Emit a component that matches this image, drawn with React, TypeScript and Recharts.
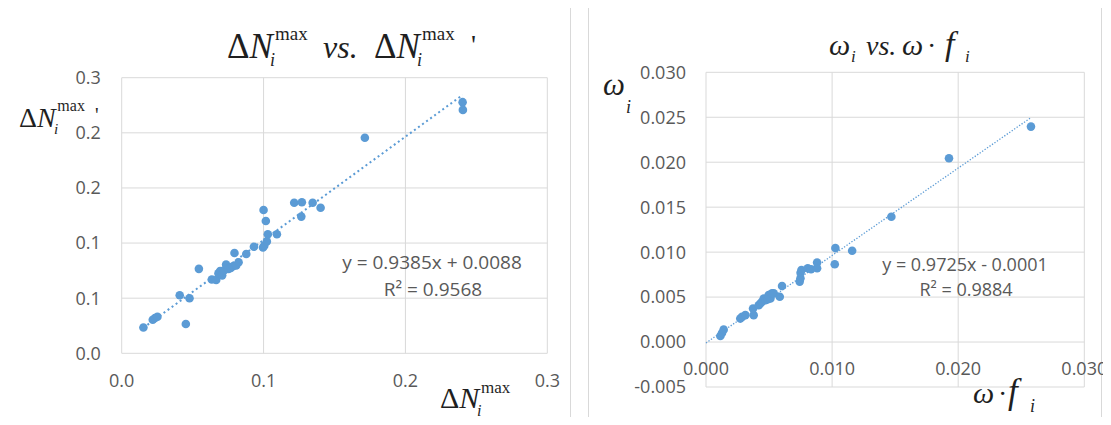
import { ScatterChart, Scatter, XAxis, YAxis, CartesianGrid, ReferenceLine } from 'recharts';

// left panel: ΔN_i^max vs ΔN_i^max'
const leftX = [0.0153, 0.0219, 0.0235, 0.0252, 0.0409, 0.0452, 0.0478, 0.0544, 0.0635, 0.0666, 0.0682, 0.0694, 0.0708, 0.0722, 0.0736, 0.0753, 0.0769, 0.0784, 0.0795, 0.0807, 0.0824, 0.0878, 0.0932, 0.0996, 0.1000, 0.1005, 0.1016, 0.1023, 0.1030, 0.1094, 0.1216, 0.1266, 0.1270, 0.1346, 0.1402, 0.1714, 0.2403, 0.2405];
const leftY = [0.0234, 0.0305, 0.0320, 0.0332, 0.0527, 0.0266, 0.0500, 0.0766, 0.0670, 0.0665, 0.0725, 0.0746, 0.0707, 0.0754, 0.0805, 0.0766, 0.0775, 0.0790, 0.0910, 0.0796, 0.0826, 0.0901, 0.0967, 0.0960, 0.1300, 0.0975, 0.1200, 0.1015, 0.1080, 0.1080, 0.1365, 0.1240, 0.1370, 0.1365, 0.1320, 0.1955, 0.2278, 0.2208];
const leftXTicks = [0, 0.1, 0.2, 0.3];
const leftXLabels = ['0.0', '0.1', '0.2', '0.3'];
const leftYTicks = [0, 0.05, 0.1, 0.15, 0.2, 0.25];
const leftYLabels = ['0.0', '0.1', '0.1', '0.2', '0.2', '0.3'];
const leftSlope = 0.9385;
const leftIntercept = 0.0088;
const leftFitRange = [0.0153, 0.2403];

// right panel: ω_i vs ω·f_i
const rightX = [0.00114, 0.00127, 0.00140, 0.00272, 0.00286, 0.00312, 0.00373, 0.00378, 0.00418, 0.00431, 0.00444, 0.00458, 0.00471, 0.00490, 0.00497, 0.00511, 0.00524, 0.00537, 0.00585, 0.00603, 0.00743, 0.00749, 0.00750, 0.00757, 0.00807, 0.00833, 0.00881, 0.00881, 0.01021, 0.01026, 0.01159, 0.01470, 0.01927, 0.02577];
const rightY = [0.00067, 0.00101, 0.00138, 0.00261, 0.00280, 0.00299, 0.00373, 0.00299, 0.00410, 0.00429, 0.00448, 0.00485, 0.00466, 0.00475, 0.00522, 0.00485, 0.00541, 0.00541, 0.00504, 0.00623, 0.00672, 0.00709, 0.00770, 0.00802, 0.00821, 0.00810, 0.00884, 0.00821, 0.00866, 0.01045, 0.01015, 0.01393, 0.02044, 0.02396];
const rightXTicks = [0, 0.01, 0.02, 0.03];
const rightYTicks = [-0.005, 0, 0.005, 0.01, 0.015, 0.02, 0.025, 0.03];
const rightSlope = 0.9725;
const rightIntercept = -0.0001;
const rightFitRange = [0, 0.0258];

const W = 1111;
const H = 425;
const DOT = '#5b9bd5';
const GRID = '#d9d9d9';
const TICK = { fill: '#595959', fontSize: 18, fontFamily: 'Open Sans' };
const SERIF = 'Liberation Serif';
const INK = '#1f1f1f';

const leftData = leftX.map((x, i) => ({ x, y: leftY[i] }));
const rightData = rightX.map((x, i) => ({ x, y: rightY[i] }));

const dot = (props: any) => <circle cx={props.cx} cy={props.cy} r={4.3} fill={DOT} />;

// right plot area (page px), needed to lift the x tick labels up to y = 0
const R_TOP = 72.3;
const R_BOTTOM = 387;
const zeroLift = (R_BOTTOM - R_TOP) * (0 - rightYTicks[0]) / (rightYTicks[rightYTicks.length - 1] - rightYTicks[0]);

const RightXTick = (props: any) => {
    const { x, y, payload } = props;
    return (
        <text x={x} y={y - zeroLift + 25} textAnchor="middle" fill={TICK.fill} fontSize={TICK.fontSize} fontFamily={TICK.fontFamily}>
            {payload.value.toFixed(3)}
        </text>
    );
};

function DN({ x, y, size, sup, subDx, supDy, subDy }: { x: number; y: number; size: number; sup: number; subDx: number; supDy: number; subDy: number }) {
    return (
        <g fontFamily={SERIF} fill={INK}>
            <text x={x} y={y} fontSize={size}>Δ<tspan fontStyle="italic">N</tspan></text>
            <text x={x + size * 1.37} y={y - supDy} fontSize={sup}>max</text>
            <text x={x + subDx} y={y + subDy} fontSize={sup * 0.95} fontStyle="italic">i</text>
        </g>
    );
}

export default function App() {
    return (
        <div style={{ position: 'relative', width: W, height: H, margin: -8, background: '#fff', overflow: 'hidden' }}>
            <div style={{ position: 'absolute', left: 7, top: 7, width: 564, height: 414, border: `1px solid ${GRID}`, boxSizing: 'border-box' }} />
            <div style={{ position: 'absolute', left: 588, top: 7, width: 514, height: 420, border: `1px solid ${GRID}`, boxSizing: 'border-box' }} />

            <div style={{ position: 'absolute', left: 0, top: 0 }}>
                <ScatterChart width={W} height={H} margin={{ top: 77.7, right: W - 547.3, left: 0, bottom: 0 }}>
                    <CartesianGrid stroke={GRID} strokeWidth={1} />
                    <XAxis type="number" dataKey="x" domain={[0, 0.3]} ticks={leftXTicks} interval={0}
                        tickFormatter={(_v: number, i: number) => leftXLabels[i]}
                        axisLine={false} tickLine={false} tickSize={0} tickMargin={21} height={H - 353.3} tick={TICK} />
                    <YAxis type="number" dataKey="y" domain={[0, 0.25]} ticks={leftYTicks} interval={0}
                        tickFormatter={(_v: number, i: number) => leftYLabels[i]}
                        axisLine={false} tickLine={false} tickSize={0} tickMargin={21} width={121.7} tick={TICK} />
                    <ReferenceLine
                        segment={[
                            { x: leftFitRange[0], y: leftSlope * leftFitRange[0] + leftIntercept },
                            { x: leftFitRange[1], y: leftSlope * leftFitRange[1] + leftIntercept },
                        ]}
                        stroke={DOT} strokeWidth={2} strokeDasharray="2 3" />
                    <Scatter data={leftData} shape={dot} isAnimationActive={false} />
                </ScatterChart>
            </div>

            <div style={{ position: 'absolute', left: 0, top: 0 }}>
                <ScatterChart width={W} height={H} margin={{ top: R_TOP, right: W - 1084.3, left: 0, bottom: 0 }}>
                    <CartesianGrid stroke={GRID} strokeWidth={1} />
                    <XAxis type="number" dataKey="x" domain={[0, 0.03]} ticks={rightXTicks} interval={0}
                        axisLine={false} tickLine={false} height={H - R_BOTTOM} tick={<RightXTick />} />
                    <YAxis type="number" dataKey="y" domain={[-0.005, 0.03]} ticks={rightYTicks} interval={0}
                        tickFormatter={(v: number) => v.toFixed(3)}
                        axisLine={false} tickLine={false} tickSize={0} tickMargin={20} width={706} tick={TICK} />
                    <ReferenceLine
                        segment={[
                            { x: rightFitRange[0], y: rightSlope * rightFitRange[0] + rightIntercept },
                            { x: rightFitRange[1], y: rightSlope * rightFitRange[1] + rightIntercept },
                        ]}
                        stroke={DOT} strokeWidth={1.3} strokeDasharray="1.3 1.7" />
                    <Scatter data={rightData} shape={dot} isAnimationActive={false} />
                </ScatterChart>
            </div>

            <svg width={W} height={H} style={{ position: 'absolute', left: 0, top: 0, pointerEvents: 'none' }}>
                {/* left title */}
                <DN x={227} y={58} size={35} sup={19} subDx={43} supDy={18} subDy={8} />
                <text x={323} y={58} fontSize={32} fontStyle="italic" fontFamily={SERIF} fill={INK}>vs.</text>
                <DN x={374} y={58} size={35} sup={19} subDx={43} supDy={18} subDy={8} />
                <text x={471} y={54} fontSize={28} fontFamily={SERIF} fill={INK}>'</text>
                {/* left axis titles */}
                <DN x={19} y={127} size={28} sup={16} subDx={35} supDy={16} subDy={7} />
                <text x={95} y={122} fontSize={20} fontFamily={SERIF} fill={INK}>'</text>
                <DN x={440} y={408} size={30} sup={17} subDx={37} supDy={15} subDy={8} />
                {/* left fit */}
                <g fontFamily="Open Sans" fontSize={19} fill="#595959" textAnchor="middle">
                    <text x={432} y={269}>y = 0.9385x + 0.0088</text>
                    <text x={433} y={296}>R² = 0.9568</text>
                </g>

                {/* right title */}
                <g fontFamily={SERIF} fill={INK} fontStyle="italic">
                    <text x={829} y={55} fontSize={30}>ω</text>
                    <text x={851} y={62} fontSize={17}>i</text>
                    <text x={866} y={55} fontSize={28}>vs.</text>
                    <text x={902} y={55} fontSize={30}>ω</text>
                    <text x={927} y={55} fontSize={28} fontStyle="normal">·</text>
                    <text x={945} y={55} fontSize={34}>f</text>
                    <text x={965} y={62} fontSize={17}>i</text>
                </g>
                {/* right axis titles */}
                <g fontFamily={SERIF} fill={INK} fontStyle="italic">
                    <text x={603} y={95} fontSize={31}>ω</text>
                    <text x={626} y={113} fontSize={18}>i</text>
                    <text x={973} y={403} fontSize={30}>ω</text>
                    <text x={998} y={403} fontSize={28} fontStyle="normal">·</text>
                    <text x={1008} y={403} fontSize={35}>f</text>
                    <text x={1030} y={412} fontSize={18}>i</text>
                </g>
                {/* right fit */}
                <g fontFamily="Open Sans" fontSize={18} fill="#595959" textAnchor="middle">
                    <text x={965} y={271}>y = 0.9725x - 0.0001</text>
                    <text x={966} y={296}>R² = 0.9884</text>
                </g>
            </svg>
        </div>
    );
}
